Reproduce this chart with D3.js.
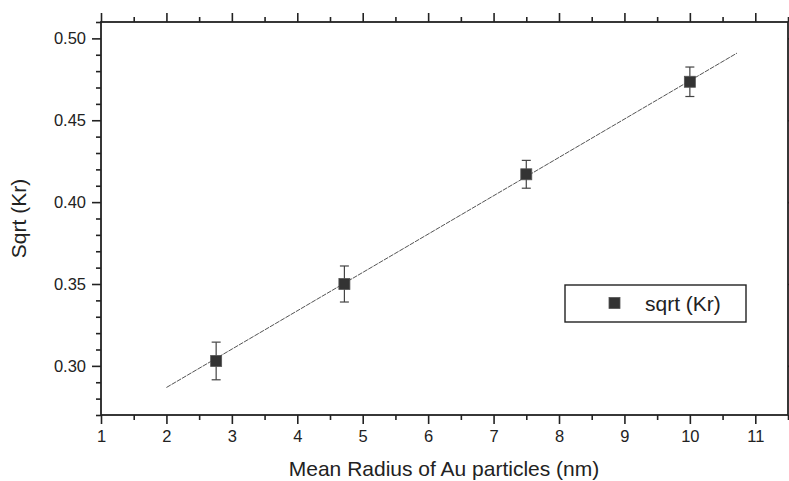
<!DOCTYPE html>
<html>
<head>
<meta charset="utf-8">
<script src="https://cdn.jsdelivr.net/npm/d3@7"></script>
<style>
  html, body { margin: 0; padding: 0; background: #fff; }
  svg { display: block; font-family: "Liberation Sans", Arial, sans-serif; }
</style>
</head>
<body>
<svg id="chart" width="789" height="481"></svg>
<script>
// ---- data ----
const radius = [2.76, 4.72, 7.50, 10.0];
const sqrtKr = [0.303, 0.350, 0.417, 0.4735];
const errKr = [0.0115, 0.011, 0.0085, 0.009];
const fitX = [2.0, 10.72];
const fitY = [0.2868, 0.491];
const xTicks = [1, 2, 3, 4, 5, 6, 7, 8, 9, 10, 11];
const yTicks = [0.30, 0.35, 0.40, 0.45, 0.50];
const seriesName = "sqrt (Kr)";
const xTitle = "Mean Radius of Au particles (nm)";
const yTitle = "Sqrt (Kr)";

// ---- layout ----
const L = 101, R = 788, T = 22, B = 415;
const svg = d3.select("#chart");
const x = d3.scaleLinear().domain([1, 11.5]).range([L, R]);
const y = d3.scaleLinear().domain([0.27, 0.51]).range([B, T]);

const xMinor = d3.range(1.5, 11.6, 1);
const yMinor = d3.range(0.27, 0.5101, 0.01).filter(v => !yTicks.some(t => Math.abs(t - v) < 1e-6));
const axisColor = "#222";

function styleAxis(g) {
  g.select(".domain").remove();
  g.selectAll(".tick line").attr("stroke", axisColor).attr("stroke-width", 1.6);
  g.selectAll(".tick text").attr("fill", "#222").style("font-size", "16.5px");
}

// bottom axis
svg.append("g").attr("transform", `translate(0,${B})`)
  .call(d3.axisBottom(x).tickValues(xTicks).tickFormat(d3.format("d")).tickSize(9).tickPadding(6))
  .call(styleAxis);
svg.append("g").attr("transform", `translate(0,${B})`)
  .call(d3.axisBottom(x).tickValues(xMinor).tickFormat("").tickSize(5))
  .call(styleAxis);
// top axis
svg.append("g").attr("transform", `translate(0,${T})`)
  .call(d3.axisTop(x).tickValues(xTicks).tickFormat("").tickSize(9))
  .call(styleAxis);
svg.append("g").attr("transform", `translate(0,${T})`)
  .call(d3.axisTop(x).tickValues(xMinor).tickFormat("").tickSize(5))
  .call(styleAxis);
// left axis
svg.append("g").attr("transform", `translate(${L},0)`)
  .call(d3.axisLeft(y).tickValues(yTicks).tickFormat(d3.format(".2f")).tickSize(9).tickPadding(6))
  .call(styleAxis);
svg.append("g").attr("transform", `translate(${L},0)`)
  .call(d3.axisLeft(y).tickValues(yMinor).tickFormat("").tickSize(5))
  .call(styleAxis);
// right axis
svg.append("g").attr("transform", `translate(${R},0)`)
  .call(d3.axisRight(y).tickValues(yTicks).tickFormat("").tickSize(9))
  .call(styleAxis);

// frame
svg.append("rect").attr("x", L).attr("y", T).attr("width", R - L).attr("height", B - T)
  .attr("fill", "none").attr("stroke", axisColor).attr("stroke-width", 1.8);

// fit line
svg.append("line")
  .attr("x1", x(fitX[0])).attr("y1", y(fitY[0]))
  .attr("x2", x(fitX[1])).attr("y2", y(fitY[1]))
  .attr("stroke", "#555").attr("stroke-width", 1).attr("stroke-dasharray", "5,1");

const pts = radius.map((r, i) => ({ r, v: sqrtKr[i], e: errKr[i] }));
const capW = 4.5;
const eb = svg.append("g").attr("stroke", "#444").attr("stroke-width", 1.2);
pts.forEach(p => {
  const cx = x(p.r);
  eb.append("line").attr("x1", cx).attr("x2", cx).attr("y1", y(p.v - p.e)).attr("y2", y(p.v + p.e));
  eb.append("line").attr("x1", cx - capW).attr("x2", cx + capW).attr("y1", y(p.v + p.e)).attr("y2", y(p.v + p.e));
  eb.append("line").attr("x1", cx - capW).attr("x2", cx + capW).attr("y1", y(p.v - p.e)).attr("y2", y(p.v - p.e));
});

const ms = 11;
svg.append("g").selectAll("rect").data(pts).join("rect")
  .attr("x", d => x(d.r) - ms / 2).attr("y", d => y(d.v) - ms / 2)
  .attr("width", ms).attr("height", ms)
  .attr("fill", "#333").attr("stroke", "#555").attr("stroke-width", 0.8);

// legend
svg.append("rect").attr("x", 565).attr("y", 285).attr("width", 181).attr("height", 37)
  .attr("fill", "#fff").attr("stroke", "#222").attr("stroke-width", 1.4);
svg.append("rect").attr("x", 609).attr("y", 297.5).attr("width", ms).attr("height", ms)
  .attr("fill", "#333").attr("stroke", "#555").attr("stroke-width", 0.8);
svg.append("text").attr("x", 645).attr("y", 311).style("font-size", "21px").attr("fill", "#222")
  .text(seriesName);

// axis titles
svg.append("text").attr("x", (289 + 599) / 2).attr("y", 476).attr("text-anchor", "middle")
  .style("font-size", "21px").attr("fill", "#222").text(xTitle);
svg.append("text").attr("transform", `translate(26,${(T + B) / 2}) rotate(-90)`)
  .attr("text-anchor", "middle").style("font-size", "21px").attr("fill", "#222").text(yTitle);
</script>
</body>
</html>
